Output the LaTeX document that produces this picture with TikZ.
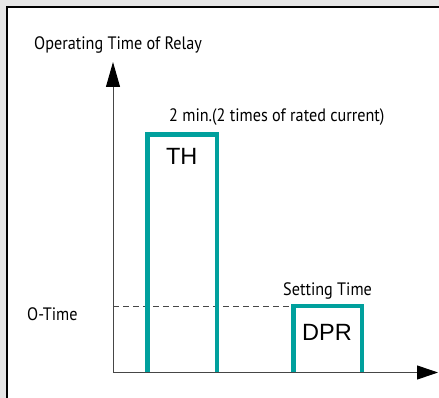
\documentclass[tikz,border=0pt]{standalone}
\usepackage{fontspec}
\usetikzlibrary{arrows.meta}
\setmainfont{PT Sans}[FakeStretch=0.9]
\newfontfamily\boxfont{Liberation Sans}
\definecolor{tealbar}{RGB}{0,160,157}
\definecolor{framegray}{RGB}{230,230,230}
\definecolor{axisgray}{RGB}{70,70,70}
\tikzset{
  axisline/.style={draw=axisgray, line width=1pt},
  ytip/.style={-{Triangle[length=25pt,width=14pt,black]}},
  xtip/.style={-{Triangle[length=21pt,width=14pt,black]}},
  barline/.style={draw=tealbar, line width=4.6pt, line join=miter, line cap=butt},
  dashline/.style={draw=axisgray, line width=0.8pt, dash pattern=on 6pt off 4pt},
  lbl/.style={inner sep=0pt, font=\fontsize{18}{21}\selectfont, text=black},
  boxlbl/.style={inner sep=0pt, font=\boxfont\fontsize{23.5}{26}\selectfont, text=black}
}
\begin{document}
\begin{tikzpicture}[x=1pt,y=-1pt]
\useasboundingbox (0,0) rectangle (439,398);
\fill[framegray] (0,0) rectangle (439,398);
\fill[white] (7,7) rectangle (439,398);
\draw[line width=2pt] (7,398) -- (7,7) -- (439,7);
% axes
\coordinate (o) at (113,372.5);
\coordinate (yend) at (113,62);
\coordinate (xend) at (438,372.5);
% TH bar
\coordinate (thbl) at (147.5,372.5);
\coordinate (thtl) at (147.5,134.5);
\coordinate (thtr) at (217,134.5);
\coordinate (thbr) at (217,372.5);
% DPR bar
\coordinate (dpbl) at (293.5,372.5);
\coordinate (dptl) at (293.5,306);
\coordinate (dptr) at (362,306);
\coordinate (dpbr) at (362,372.5);
\coordinate (olevel) at (113,306);
\draw[dashline] (olevel) -- (dptl);
\draw[barline] (thbl) -- (thtl) -- (thtr) -- (thbr);
\draw[barline] (dpbl) -- (dptl) -- (dptr) -- (dpbr);
\draw[axisline, ytip] (o) -- (yend);
\draw[axisline, xtip] (o) -- (xend);
% labels
\node[lbl, anchor=base west] (ylab) at (34,50) {Operating Time of Relay};
\node[lbl, anchor=base west] (thnote) at (169,122) {2 min.(2 times of rated current)};
\node[boxlbl, anchor=base] (th) at (181.7,165) {TH};
\node[lbl, anchor=base west] (otime) at (27,320.5) {O-Time};
\node[lbl, anchor=base west] (setting) at (283,295.5) {Setting Time};
\node[boxlbl, anchor=base] (dpr) at (327,340) {DPR};
\end{tikzpicture}
\end{document}
